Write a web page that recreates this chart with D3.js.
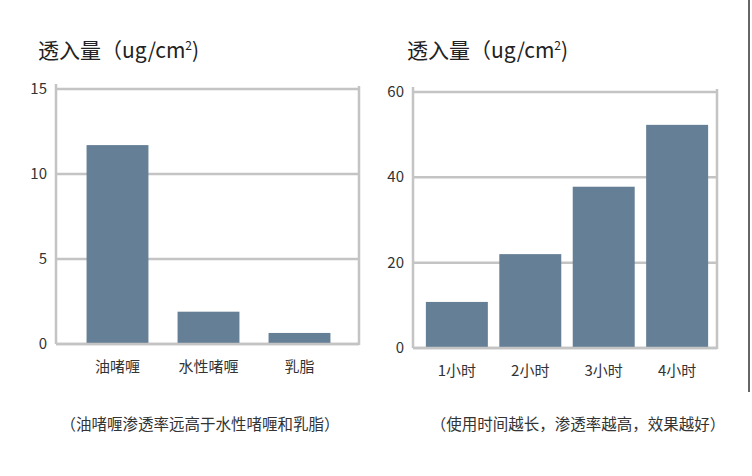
<!DOCTYPE html>
<html><head><meta charset="utf-8">
<script src="https://cdn.jsdelivr.net/npm/d3@7"></script>
<style>body{margin:0;background:#fff}svg{display:block}text{font-family:"Noto Sans CJK SC","Open Sans",sans-serif}</style>
</head><body><svg id="c" width="752" height="476"></svg>
<script>
const leftCats=["油啫喱","水性啫喱","乳脂"];
const leftVals=[11.7,1.9,0.65];
const leftTicks=[0,5,10,15];
const rightCats=["1小时","2小时","3小时","4小时"];
const rightVals=[10.8,22,37.8,52.3];
const rightTicks=[0,20,40,60];
const title="透入量（ug/cm";
const captions=["（油啫喱渗透率远高于水性啫喱和乳脂）","（使用时间越长，渗透率越高，效果越好）"];

const svg=d3.select("#c");
const barColor="#647f96", grid="#c4c4c4";
function panel(cfg){
  const g=svg.append("g");
  const y=d3.scaleLinear().domain([0,cfg.max]).range([cfg.y0,cfg.y1]);
  const x=d3.scaleBand().domain(cfg.cats).range(cfg.xr).paddingInner(cfg.pi).paddingOuter(cfg.po);
  g.selectAll("line.g").data(cfg.ticks).join("line").attr("x1",cfg.ax).attr("x2",cfg.rx)
   .attr("y1",d=>y(d)).attr("y2",d=>y(d)).attr("stroke",grid).attr("stroke-width",2.5);
  g.append("line").attr("x1",cfg.ax).attr("x2",cfg.ax).attr("y1",cfg.y1-5).attr("y2",cfg.y0).attr("stroke",grid).attr("stroke-width",2.5);
  g.append("line").attr("x1",cfg.rx).attr("x2",cfg.rx).attr("y1",cfg.y1-3).attr("y2",cfg.y0+1).attr("stroke",grid).attr("stroke-width",2.5);
  g.selectAll("rect").data(cfg.vals).join("rect").attr("x",(d,i)=>x(cfg.cats[i])).attr("width",x.bandwidth())
   .attr("y",d=>y(d)).attr("height",d=>y(0)-y(d)).attr("fill",barColor);
  g.append("line").attr("x1",cfg.ax).attr("x2",cfg.rx).attr("y1",cfg.y0).attr("y2",cfg.y0).attr("stroke",grid).attr("stroke-width",2.5);
  g.selectAll("text.t").data(cfg.ticks).join("text").attr("x",cfg.ax-9).attr("y",d=>y(d)+5)
   .attr("text-anchor","end").attr("font-size",15).attr("fill","#333").text(d=>d);
  g.selectAll("text.c").data(cfg.cats).join("text").attr("x",d=>x(d)+x.bandwidth()/2).attr("y",cfg.y0+28)
   .attr("text-anchor","middle").attr("font-size",15).attr("fill","#333").text(d=>d);
  const t=g.append("text").attr("x",cfg.tx).attr("y",58).attr("font-size",21).attr("fill","#222");
  t.append("tspan").text(title);
  t.append("tspan").attr("font-size",12).attr("dy",-8).text("2");
  t.append("tspan").attr("dy",8).text(")");
  g.append("text").attr("x",cfg.cx).attr("y",430).attr("text-anchor","middle").attr("font-size",15.5).attr("fill","#333").text(cfg.cap);
}
panel({cats:leftCats,vals:leftVals,ticks:leftTicks,max:15,y0:344,y1:89,ax:56,rx:359,xr:[72,345],pi:0.32,po:0.16,tx:38,cx:200,cap:captions[0]});
panel({cats:rightCats,vals:rightVals,ticks:rightTicks,max:60,y0:348,y1:92,ax:413,rx:717,xr:[420,714],pi:0.156,po:0.08,tx:407,cx:578,cap:captions[1]});
svg.append("line").attr("x1",749).attr("x2",749).attr("y1",0).attr("y2",392).attr("stroke","#333").attr("stroke-width",1.5);
</script></body></html>
